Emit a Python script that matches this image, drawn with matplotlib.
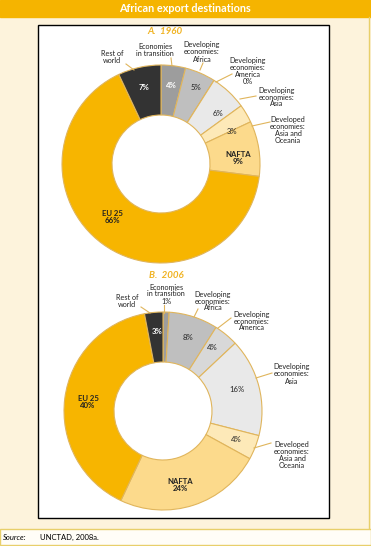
import matplotlib.pyplot as plt
from matplotlib.patches import Rectangle

# data
names = ["Economies in transition", "Developing economies: Africa",
         "Developing economies: America", "Developing economies: Asia",
         "Developed economies: Asia and Oceania", "NAFTA", "EU 25", "Rest of world"]
share_1960 = [4, 5, 0, 6, 3, 9, 66, 7]
share_2006 = [1, 8, 4, 16, 4, 24, 40, 3]
colors = ["#9d9d9d", "#bfbfbf", "#d8d8d8", "#e9e9e9",
          "#fde9b8", "#fcda8c", "#f7b500", "#333333"]

W, H = 371, 546
GOLD = "#f5b400"
CREAM = "#fdf3dc"
EDGE = "#e0b55c"
plt.rcParams['font.family'] = ['Lato', 'DejaVu Sans']

fig = plt.figure(figsize=(W / 100, H / 100), dpi=100)
ax = fig.add_axes([0, 0, 1, 1])


def Y(y):
    # pixel row -> data y
    return H - y


# background pieces
ax.add_patch(Rectangle((0, Y(528)), W, 511, color=CREAM, zorder=0))
ax.add_patch(Rectangle((0, Y(17)), W, 17, color=GOLD, zorder=0))
ax.add_patch(Rectangle((0, Y(545)), W, 16, facecolor="#fffdf7", edgecolor="#e8cf6a", lw=1, zorder=0))
ax.plot([369, 369], [Y(17), Y(528)], color="#e8cf6a", lw=1, zorder=0)
ax.add_patch(Rectangle((38, Y(518)), 291, 493, facecolor="white", edgecolor="black", lw=1, zorder=1))
ax.text(185, Y(9), "African export destinations", color="white", fontsize=7.8,
        fontweight="bold", ha="center", va="center")
ax.text(3, Y(537), "Source:", fontsize=5.5, style="italic", va="center")
ax.text(40, Y(537), "UNCTAD, 2008a.", fontsize=5.5, va="center")


def donut(vals, cx, cy):
    ax.pie(vals, colors=colors, startangle=90, counterclock=False,
           center=(cx, Y(cy)), radius=99,
           wedgeprops=dict(width=50, edgecolor=EDGE, linewidth=0.8))


donut(share_1960, 161, 164)
donut(share_2006, 163, 411)

ax.text(165, Y(32), "A.  1960", color="#f0b323", fontsize=7, style="italic",
        fontweight="bold", ha="center", va="center")
ax.text(166, Y(275), "B.  2006", color="#f0b323", fontsize=7, style="italic",
        fontweight="bold", ha="center", va="center")

# outside labels: text, position, leader line
out_1960 = [
    ("Rest of\nworld", (112, 57), [(126, 64), (134, 70)]),
    ("Economies\nin transition", (155, 50), [(171, 58), (172, 66)]),
    ("Developing\neconomies:\nAfrica", (202, 52), [(203, 63), (200, 70)]),
    ("Developing\neconomies:\nAmerica\n0%", (248, 71), [(232, 74), (216, 82)]),
    ("Developing\neconomies:\nAsia", (277, 97), [(256, 96), (240, 99)]),
    ("Developed\neconomies:\nAsia and\nOceania", (288, 130), [(270, 122), (252, 126)]),
]
out_2006 = [
    ("Rest of\nworld", (127, 301), [(141, 307), (150, 313)]),
    ("Economies\nin transition\n1%", (166, 294), [(164, 305), (164, 313)]),
    ("Developing\neconomies:\nAfrica", (213, 301), [(198, 309), (194, 317)]),
    ("Developing\neconomies:\nAmerica", (252, 321), [(231, 318), (218, 328)]),
    ("Developing\neconomies:\nAsia", (292, 374), [(272, 373), (256, 378)]),
    ("Developed\neconomies:\nAsia and\nOceania", (292, 455), [(271, 443), (254, 448)]),
]
for txt, (x, y), line in out_1960 + out_2006:
    ax.text(x, Y(y), txt, fontsize=5.2, ha="center", va="center", linespacing=1.0, color="#222222")
    ax.plot([p[0] for p in line], [Y(p[1]) for p in line], color=EDGE, lw=0.8)

# labels inside the rings
in_1960 = [("7%", (144, 88), "white", "bold"), ("4%", (171, 85), "white", "bold"),
           ("5%", (196, 88), "#222222", "normal"), ("6%", (218, 113), "#222222", "normal"),
           ("3%", (232, 131), "#222222", "normal"), ("NAFTA\n9%", (238, 158), "#222222", "bold"),
           ("EU 25\n66%", (112, 217), "#222222", "bold")]
in_2006 = [("3%", (157, 332), "white", "bold"), ("8%", (188, 337), "#222222", "normal"),
           ("4%", (212, 348), "#222222", "normal"), ("16%", (237, 390), "#222222", "normal"),
           ("4%", (236, 440), "#222222", "normal"), ("NAFTA\n24%", (180, 485), "#222222", "bold"),
           ("EU 25\n40%", (88, 402), "#222222", "bold")]
for txt, (x, y), c, w in in_1960 + in_2006:
    ax.text(x, Y(y), txt, fontsize=5.6, ha="center", va="center", color=c,
            fontweight=w, linespacing=1.05)

ax.set_xlim(0, W)
ax.set_ylim(0, H)
ax.set_aspect("equal")
ax.axis("off")
fig.savefig("out.png", dpi=100)
